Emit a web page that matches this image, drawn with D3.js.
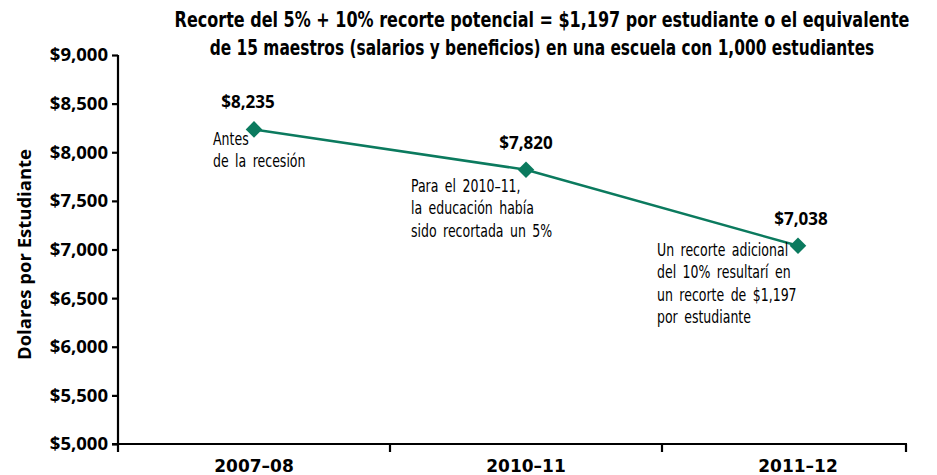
<!DOCTYPE html>
<html>
<head>
<meta charset="utf-8">
<script src="https://cdn.jsdelivr.net/npm/d3@7"></script>
<style>
  body { margin: 0; background: #fff; }
  svg { display: block; }
</style>
</head>
<body>
<div id="chart"></div>
<script>
var years = ["2007–08", "2010–11", "2011–12"];
var values = [8235, 7820, 7038];
var valueLabels = ["$8,235", "$7,820", "$7,038"];
var yTicks = [5000, 5500, 6000, 6500, 7000, 7500, 8000, 8500, 9000];
var titleLines = [
  "Recorte del 5% + 10% recorte potencial = $1,197 por estudiante o el equivalente",
  "de 15 maestros (salarios y beneficios) en una escuela con 1,000 estudiantes"
];
var notes = [
  ["Antes", "de la recesión"],
  ["Para el 2010–11,", "la educación había", "sido recortada un 5%"],
  ["Un recorte adicional", "del 10% resultarí en", "un recorte de $1,197", "por estudiante"]
];

var width = 937, height = 475;
var plotLeft = 118, plotRight = 906, plotTop = 55, plotBottom = 444;
var green = "#0b7a5e";

var svg = d3.select("#chart").append("svg")
  .attr("width", width)
  .attr("height", height);

var x = d3.scalePoint().domain(years).range([254, 798]);
var y = d3.scaleLinear().domain([5000, 9000]).range([plotBottom, plotTop]);

// title, squeezed horizontally to the width of the original condensed face
var titleWidths = [735, 665];
titleLines.forEach(function (t, i) {
  var g = svg.append("g");
  var txt = g.append("text")
    .attr("text-anchor", "middle")
    .style("font-family", "'DejaVu Sans', sans-serif")
    .style("font-stretch", "condensed")
    .style("font-weight", "bold")
    .style("font-size", "22px")
    .text(t);
  var sx = titleWidths[i] / txt.node().getComputedTextLength();
  g.attr("transform", "translate(542," + (27 + i * 28) + ") scale(" + sx + ",1)");
});

// y axis
var yAxis = svg.append("g")
  .attr("transform", "translate(" + plotLeft + ",0)")
  .call(d3.axisLeft(y).tickValues(yTicks).tickSize(6).tickPadding(4)
    .tickFormat(function (d) { return "$" + d3.format(",")(d); }));
yAxis.select(".domain").attr("d", "M0," + plotTop + "V" + (plotBottom + 8));
yAxis.selectAll("line, path").attr("stroke", "#000").attr("stroke-width", 2.2);
yAxis.selectAll("text")
  .style("font-family", "'Open Sans', sans-serif")
  .style("font-weight", "bold")
  .style("font-size", "18.5px")
  .attr("fill", "#000");

svg.append("text")
  .attr("transform", "translate(31," + ((plotTop + plotBottom) / 2 + 5) + ") rotate(-90)")
  .attr("text-anchor", "middle")
  .style("font-family", "'Open Sans', sans-serif")
  .style("font-weight", "bold")
  .style("font-size", "18.5px")
  .text("Dolares por Estudiante");

// x axis: ticks between categories and at the right end
var xTickPos = [];
for (var i = 0; i < years.length - 1; ++i) {
  xTickPos.push((x(years[i]) + x(years[i + 1])) / 2);
}
xTickPos.push(plotRight);

var xAxis = svg.append("g");
xAxis.append("line")
  .attr("x1", plotLeft - 6).attr("x2", plotRight + 1)
  .attr("y1", plotBottom).attr("y2", plotBottom)
  .attr("stroke", "#000").attr("stroke-width", 2.2);
xAxis.selectAll("line.tick").data(xTickPos)
  .enter().append("line")
  .attr("class", "tick")
  .attr("x1", function (d) { return d; })
  .attr("x2", function (d) { return d; })
  .attr("y1", plotBottom).attr("y2", plotBottom + 8)
  .attr("stroke", "#000").attr("stroke-width", 2.2);
xAxis.selectAll("text").data(years)
  .enter().append("text")
  .attr("x", function (d) { return x(d); })
  .attr("y", 472)
  .attr("text-anchor", "middle")
  .style("font-family", "'DejaVu Sans', sans-serif")
  .style("font-weight", "bold")
  .style("font-size", "17px")
  .text(function (d) { return d; });

// line + diamonds
var line = d3.line()
  .x(function (d, i) { return x(years[i]); })
  .y(function (d) { return y(d); });

svg.append("path")
  .datum(values)
  .attr("d", line)
  .attr("fill", "none")
  .attr("stroke", green)
  .attr("stroke-width", 2.5);

svg.selectAll("path.pt").data(values)
  .enter().append("path")
  .attr("class", "pt")
  .attr("d", d3.symbol().type(d3.symbolDiamond2).size(175))
  .attr("transform", function (d, i) { return "translate(" + x(years[i]) + "," + y(d) + ")"; })
  .attr("fill", green);

svg.selectAll("text.val").data(values)
  .enter().append("text")
  .attr("class", "val")
  .attr("x", function (d, i) { return x(years[i]) + [-6, 0, 3][i]; })
  .attr("y", function (d) { return y(d) - 21; })
  .attr("text-anchor", "middle")
  .style("font-family", "'Open Sans', sans-serif")
  .style("font-weight", "bold")
  .style("font-size", "17px")
  .text(function (d, i) { return valueLabels[i]; });

// notes
var noteX = [213, 411, 657];
var noteY = [145, 192, 256];
notes.forEach(function (lines, k) {
  svg.append("g")
    .attr("transform", "translate(" + noteX[k] + "," + noteY[k] + ") scale(0.82,1)")
    .append("text")
    .style("font-family", "'DejaVu Sans', sans-serif")
    .style("font-stretch", "condensed")
    .style("font-size", "17px")
    .style("word-spacing", "3px")
    .selectAll("tspan").data(lines)
    .enter().append("tspan")
    .attr("x", 0)
    .attr("dy", function (d, i) { return i === 0 ? 0 : 22.5; })
    .text(function (d) { return d; });
});
</script>
</body>
</html>
